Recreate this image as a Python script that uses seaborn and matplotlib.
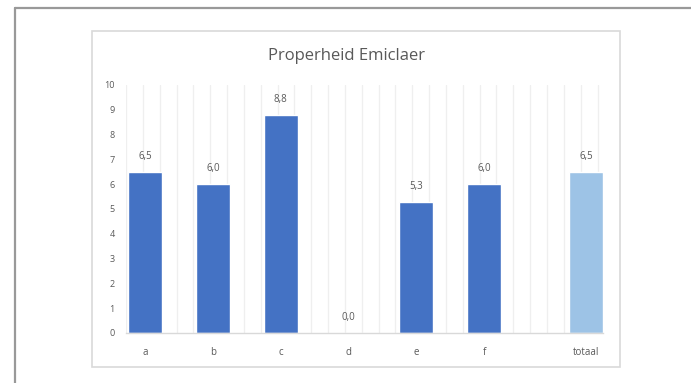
import matplotlib.pyplot as plt
from matplotlib.lines import Line2D
from matplotlib.patches import Rectangle
import numpy as np
import pandas as pd
import seaborn as sns

W, H = 691, 383

BLUE = "#4472C4"
LIGHT = "#9DC3E6"
TEXT = "#595959"
GRID = "#EFEFEF"
BORDER = "#D9D9D9"

categories = ["a", "b", "c", "d", "e", "f", "totaal"]
scores = [6.5, 6.0, 8.8, 0.0, 5.3, 6.0, 6.5]
yticks = list(range(0, 11))

# Excel leaves half a slot of space before the total bar
pos = np.arange(len(categories), dtype=float)
pos[-1] += 0.5

df = pd.DataFrame({"pos": pos, "score": scores, "cat": categories})
palette = {c: BLUE for c in categories}
palette["totaal"] = LIGHT

sns.set_style("white")
plt.rcParams["font.family"] = ["Open Sans", "DejaVu Sans"]

fig = plt.figure(figsize=(W / 100, H / 100), dpi=100, facecolor="white")

def fx(px):
    return px / W

def fy(py):
    return 1 - py / H

# outer frame (top + left edge) and chart box
fig.add_artist(Line2D([fx(15), 1], [fy(7.5), fy(7.5)], color="#999999", lw=1.6))
fig.add_artist(Line2D([fx(15), fx(15)], [fy(7.5), 0], color="#999999", lw=1.6))
fig.add_artist(Rectangle((fx(92), fy(367)), fx(620) - fx(92), fy(31) - fy(367),
                         fill=False, edgecolor=BORDER, lw=1.2))

ax = fig.add_axes([fx(126), fy(333), fx(603) - fx(126), fy(85) - fy(333)])
sns.barplot(data=df, x="pos", y="score", hue="cat", palette=palette,
            native_scale=True, width=0.5, legend=False, ax=ax, saturation=1)

x0, x1 = -0.28, 6.75
ax.set_xlim(x0, x1)
ax.set_ylim(0, 10)
ax.set_xticks(pos)
ax.set_xticklabels(categories)
ax.set_xticks(np.arange(x0, x1 + 0.01, 0.2482), minor=True)
ax.set_yticks(yticks)
ax.set_yticklabels([str(t) for t in yticks])
ax.grid(True, which="minor", axis="x", color=GRID, lw=0.9)
ax.grid(False, which="major")
ax.set_axisbelow(True)
ax.tick_params(axis="both", which="both", length=0, colors=TEXT, labelsize=6.5)
ax.tick_params(axis="x", pad=10, labelsize=7)
ax.tick_params(axis="y", pad=8)
ax.set_xlabel("")
ax.set_ylabel("")
for side in ["top", "right", "left"]:
    ax.spines[side].set_visible(False)
ax.spines["bottom"].set_color(BORDER)
ax.spines["bottom"].set_linewidth(1)

for cont in ax.containers:
    labels = [f"{b.get_height():.1f}".replace(".", ",") for b in cont]
    ax.bar_label(cont, labels=labels, padding=7, fontsize=7, color=TEXT)

fig.text(fx(347), fy(56), "Properheid Emiclaer", ha="center", va="center",
         fontsize=12, color=TEXT)

fig.savefig("out.png", dpi=100, facecolor="white")
